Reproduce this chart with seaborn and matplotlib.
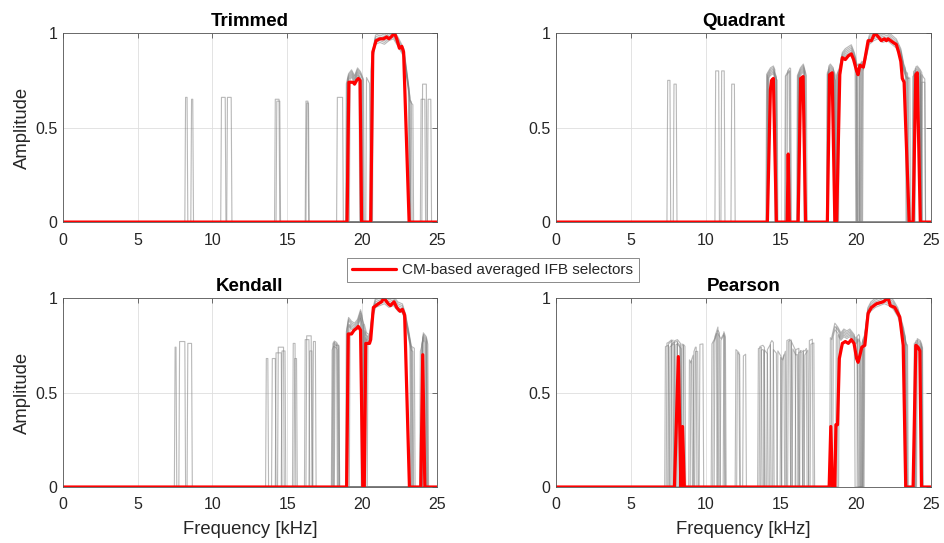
import numpy as np
import pandas as pd
import matplotlib
matplotlib.use("Agg")
import matplotlib.pyplot as plt
import seaborn as sns
from matplotlib.lines import Line2D

# ---------------- data ----------------
panel_titles = ["Trimmed", "Quadrant", "Kendall", "Pearson"]
x_ticks = [0, 5, 10, 15, 20, 25]
y_ticks = [0, 0.5, 1]
y_tick_labels = ["0", "0.5", "1"]
legend_label = "CM-based averaged IFB selectors"

# averaged selector (red)
red_f_trim = [0, 19.0, 19.12, 19.4, 19.5, 19.64, 19.75, 19.87, 19.97, 20.58, 20.72, 20.94, 21.2, 21.43,
              21.65, 21.8, 21.95, 22.17, 22.32, 22.5, 22.66, 22.78, 23.15, 25]
red_a_trim = [0, 0, 0.74, 0.74, 0.73, 0.75, 0.76, 0.75, 0, 0, 0.9, 0.96, 0.97, 0.97,
              0.98, 0.97, 0.98, 1.0, 0.97, 0.92, 0.93, 0.9, 0, 0]

red_f_quad = [0, 14.1, 14.3, 14.38, 14.5, 14.7, 15.42, 15.49, 15.56, 16.15, 16.32, 16.48, 16.65,
              18.1, 18.25, 18.42, 18.6, 18.72, 18.93, 19.1, 19.3, 19.5, 19.7, 19.85, 20.05, 20.15,
              20.27, 20.5, 20.6, 20.82, 21.04, 21.27, 21.4, 21.7, 21.9, 22.04, 22.15, 22.5, 22.7,
              22.85, 23.0, 23.1, 23.22, 23.56, 23.82, 24.0, 24.1, 24.3, 25]
red_a_quad = [0, 0, 0.7, 0.75, 0.76, 0, 0, 0.36, 0, 0, 0.76, 0.77, 0,
              0, 0.78, 0.79, 0, 0, 0.78, 0.87, 0.86, 0.88, 0.89, 0.86, 0.80, 0.78,
              0.83, 0.82, 0.86, 0.96, 0.96, 1.0, 0.99, 0.96, 0.97, 0.96, 0.97, 0.95, 0.94,
              0.9, 0.85, 0.76, 0.74, 0, 0, 0.78, 0.79, 0, 0]

red_f_kend = [0, 18.97, 19.08, 19.3, 19.47, 19.64, 19.75, 19.9, 20.05, 20.15, 20.25, 20.5, 20.58,
              20.76, 21.1, 21.3, 21.47, 21.75, 21.9, 22.14, 22.32, 22.54, 22.7, 22.85, 23.17,
              23.93, 24.06, 24.2, 25]
red_a_kend = [0, 0, 0.81, 0.81, 0.83, 0.84, 0.85, 0.83, 0, 0, 0.76, 0.76, 0.78,
              0.95, 0.97, 0.98, 1.0, 0.97, 0.96, 0.98, 0.95, 0.93, 0.94, 0.91, 0,
              0, 0.70, 0, 0]

red_f_pear = [0, 7.9, 8.16, 8.33, 8.44, 8.56, 18.22, 18.33, 18.44, 18.6, 18.67, 18.78, 18.9,
              19.1, 19.3, 19.5, 19.7, 19.88, 20.05, 20.15, 20.25, 20.4, 20.6, 20.82, 21.04, 21.38,
              21.82, 22.16, 22.3, 22.6, 22.93, 23.16, 23.33, 23.82, 24.0, 24.15, 24.27, 24.38, 25]
red_a_pear = [0, 0, 0.69, 0, 0.32, 0, 0, 0.32, 0, 0, 0.33, 0.33, 0.68,
              0.76, 0.77, 0.76, 0.78, 0.76, 0.68, 0.66, 0.69, 0.74, 0.75, 0.92, 0.95, 0.97,
              0.98, 1.0, 0.96, 0.95, 0.9, 0.75, 0, 0, 0.75, 0.74, 0.72, 0, 0]

# individual selectors (grey): amplitude envelope, selected bands per run, isolated pulses
env_f_trim = [18.9, 19.1, 19.3, 19.5, 19.7, 19.9, 20.1, 20.3, 20.5, 20.7, 20.9, 21.2, 21.5, 21.8,
              22.1, 22.4, 22.6, 22.8, 23.0, 23.2, 23.4]
env_a_trim = [0.70, 0.77, 0.79, 0.76, 0.80, 0.78, 0.74, 0.75, 0.72, 0.88, 0.97, 0.98, 0.97, 0.99,
              1.0, 0.96, 0.93, 0.9, 0.78, 0.66, 0.64]
bands_trim = [
    [(19.0, 20.0), (20.6, 23.2)],
    [(19.1, 19.9), (20.7, 23.3)],
    [(18.95, 20.1), (20.3, 20.5), (20.62, 23.15)],
    [(19.2, 19.95), (20.65, 23.4)],
    [(19.05, 20.05), (20.7, 23.2)],
    [(19.0, 19.8), (20.75, 23.1)],
]
pulses_trim = [(8.2, 8.3, 0.66), (8.6, 8.68, 0.65), (10.6, 10.85, 0.66), (11.0, 11.25, 0.66),
               (14.2, 14.45, 0.65), (14.3, 14.5, 0.64), (16.25, 16.38, 0.64), (16.3, 16.42, 0.63),
               (18.35, 18.7, 0.66), (23.95, 24.2, 0.65), (24.05, 24.3, 0.73), (24.42, 24.6, 0.65)]

env_f_quad = [14.0, 14.3, 14.5, 14.7, 15.2, 15.4, 15.6, 16.1, 16.3, 16.5, 16.7, 18.1, 18.3, 18.5,
              18.7, 18.9, 19.1, 19.3, 19.5, 19.7, 19.9, 20.1, 20.3, 20.5, 20.7, 20.9, 21.2, 21.5,
              21.8, 22.1, 22.4, 22.7, 23.0, 23.2, 23.4, 23.7, 23.9, 24.1, 24.3, 24.5, 24.7]
env_a_quad = [0.76, 0.80, 0.81, 0.77, 0.75, 0.78, 0.80, 0.76, 0.80, 0.82, 0.76, 0.80, 0.82, 0.80,
              0.76, 0.80, 0.88, 0.90, 0.91, 0.92, 0.88, 0.82, 0.84, 0.83, 0.9, 0.97, 0.99, 1.0,
              0.98, 0.99, 0.97, 0.95, 0.9, 0.82, 0.78, 0.79, 0.80, 0.81, 0.79, 0.76, 0.74]
bands_quad = [
    [(14.1, 14.7), (15.35, 15.6), (16.15, 16.6), (18.15, 18.6), (18.75, 20.05), (20.3, 23.4), (23.85, 24.35)],
    [(14.15, 14.75), (16.2, 16.55), (18.1, 18.55), (18.8, 20.1), (20.25, 23.5), (23.9, 24.3)],
    [(14.05, 14.6), (15.45, 15.65), (16.1, 16.7), (18.2, 18.5), (18.7, 20.0), (20.4, 23.3), (24.0, 24.4)],
    [(14.2, 14.65), (16.25, 16.5), (18.15, 18.65), (18.9, 19.95), (20.45, 23.6), (23.8, 24.25)],
    [(14.1, 14.55), (15.3, 15.55), (16.15, 16.6), (18.2, 18.6), (18.8, 20.2), (20.35, 23.45), (23.95, 24.3), (24.42, 24.6)],
    [(14.15, 14.7), (16.2, 16.6), (18.1, 18.55), (18.85, 20.05), (20.5, 23.35), (23.9, 24.3)],
]
pulses_quad = [(7.45, 7.6, 0.75), (7.87, 8.02, 0.73), (10.65, 10.85, 0.8), (11.05, 11.22, 0.8),
               (11.72, 11.9, 0.73), (24.4, 24.6, 0.74)]

env_f_kend = [17.9, 18.1, 18.3, 18.5, 18.9, 19.1, 19.3, 19.5, 19.7, 19.9, 20.1, 20.3, 20.5, 20.7,
              20.9, 21.2, 21.5, 21.8, 22.1, 22.4, 22.7, 22.9, 23.1, 23.3, 23.5, 23.9, 24.1, 24.3, 24.5]
env_a_kend = [0.72, 0.76, 0.75, 0.72, 0.78, 0.88, 0.86, 0.85, 0.87, 0.92, 0.86, 0.80, 0.79, 0.92,
              0.98, 0.99, 1.0, 0.98, 0.99, 0.96, 0.95, 0.9, 0.82, 0.73, 0.72, 0.74, 0.80, 0.78, 0.70]
bands_kend = [
    [(18.1, 18.4), (19.0, 20.1), (20.2, 23.3), (24.05, 24.3)],
    [(18.0, 18.35), (19.05, 19.95), (20.3, 23.2), (24.0, 24.25)],
    [(18.15, 18.45), (18.95, 20.0), (20.15, 23.5), (24.1, 24.4)],
    [(19.1, 20.05), (20.25, 23.25), (23.9, 24.2)],
    [(18.05, 18.3), (19.0, 20.1), (20.4, 23.35), (24.05, 24.35)],
    [(19.2, 19.9), (20.2, 23.4), (24.0, 24.3)],
]
pulses_kend = [(7.5, 7.56, 0.74), (7.8, 8.15, 0.77), (8.35, 8.6, 0.76), (13.6, 13.7, 0.68),
               (14.0, 14.2, 0.68), (14.25, 14.6, 0.71), (14.4, 14.75, 0.74), (14.65, 14.85, 0.72),
               (15.4, 15.52, 0.76), (15.5, 15.62, 0.68), (16.2, 16.45, 0.78), (16.3, 16.6, 0.8),
               (16.5, 16.65, 0.72), (16.75, 16.88, 0.77), (18.2, 18.45, 0.75)]

env_f_pear = [7.2, 7.5, 7.8, 8.1, 8.4, 8.7, 9.0, 9.3, 9.6, 10.4, 10.6, 10.8, 11.0, 11.2, 11.5, 12.0,
              12.5, 13.5, 13.8, 14.1, 14.4, 14.8, 15.1, 15.4, 15.7, 16.0, 16.3, 16.6, 16.9, 17.2,
              18.2, 18.4, 18.6, 18.8, 19.0, 19.2, 19.4, 19.6, 19.8, 20.0, 20.2, 20.4, 20.6, 20.8,
              21.0, 21.3, 21.6, 21.9, 22.2, 22.5, 22.8, 23.1, 23.4, 23.9, 24.1, 24.3, 24.5]
env_a_pear = [0.74, 0.75, 0.77, 0.78, 0.75, 0.72, 0.67, 0.74, 0.74, 0.75, 0.78, 0.83, 0.8, 0.83,
              0.75, 0.72, 0.68, 0.74, 0.75, 0.72, 0.76, 0.72, 0.68, 0.76, 0.77, 0.72, 0.73, 0.72,
              0.76, 0.77, 0.8, 0.78, 0.85, 0.83, 0.8, 0.82, 0.81, 0.82, 0.8, 0.78, 0.8, 0.76, 0.8,
              0.93, 0.96, 0.98, 0.99, 1.0, 0.99, 0.97, 0.93, 0.85, 0.76, 0.76, 0.77, 0.76, 0.72]
bands_pear = [
    [(7.3, 7.5), (7.9, 8.3), (9.2, 9.35), (10.5, 10.9), (12.1, 12.25), (13.6, 13.9), (14.8, 15.0),
     (15.7, 15.95), (16.5, 16.7), (18.3, 20.1), (20.4, 23.3), (23.9, 24.4)],
    [(7.6, 7.9), (8.1, 8.25), (8.9, 9.05), (10.8, 11.2), (13.9, 14.1), (15.1, 15.3), (16.2, 16.4),
     (18.5, 20.3), (20.5, 23.4), (24.0, 24.3)],
    [(7.4, 7.7), (8.5, 8.6), (9.6, 9.8), (10.6, 10.8), (12.5, 12.65), (14.3, 14.5), (15.4, 15.6),
     (16.9, 17.1), (18.4, 19.9), (20.6, 23.2), (24.1, 24.4)],
    [(8.0, 8.35), (9.3, 9.45), (11.0, 11.25), (13.7, 13.85), (14.5, 14.7), (15.8, 16.1),
     (16.6, 16.8), (18.8, 20.2), (20.55, 23.35), (23.95, 24.35)],
    [(7.5, 7.8), (8.4, 8.5), (10.4, 10.7), (12.0, 12.2), (14.1, 14.3), (15.5, 15.7), (16.0, 16.2),
     (18.7, 20.25), (20.45, 23.3), (24.0, 24.45)],
    [(7.7, 8.1), (9.0, 9.15), (11.2, 11.3), (13.5, 13.7), (15.0, 15.2), (16.3, 16.5), (17.0, 17.2),
     (18.9, 20.1), (20.5, 23.45), (24.05, 24.4)],
]
pulses_pear = []

run_gain = [1.0, 0.98, 1.02, 0.97, 1.01, 0.99]

red_curves = [(red_f_trim, red_a_trim), (red_f_quad, red_a_quad),
              (red_f_kend, red_a_kend), (red_f_pear, red_a_pear)]
grey_sets = [(env_f_trim, env_a_trim, bands_trim, pulses_trim),
             (env_f_quad, env_a_quad, bands_quad, pulses_quad),
             (env_f_kend, env_a_kend, bands_kend, pulses_kend),
             (env_f_pear, env_a_pear, bands_pear, pulses_pear)]


# ---------------- helpers ----------------
def band_trace(bands, env_f, env_a, gain, ramp=0.05):
    ef = np.asarray(env_f, float)
    ea = np.asarray(env_a, float) * gain
    xs, ys = [0.0], [0.0]
    for f0, f1 in bands:
        xs += [f0 - ramp, f0]
        ys += [0.0, float(np.interp(f0, ef, ea))]
        inside = (ef > f0) & (ef < f1)
        xs += list(ef[inside])
        ys += list(ea[inside])
        xs += [f1, f1 + ramp]
        ys += [float(np.interp(f1, ef, ea)), 0.0]
    xs.append(25.0)
    ys.append(0.0)
    return xs, ys


def pulse_trace(f0, f1, h, ramp=0.05):
    return [0.0, f0 - ramp, f0, f1, f1 + ramp, 25.0], [0.0, 0.0, h, h, 0.0, 0.0]


# ---------------- style ----------------
sns.set_style("white")
plt.rcParams["font.family"] = ["Liberation Sans", "DejaVu Sans"]
plt.rcParams["axes.edgecolor"] = "#555555"
plt.rcParams["axes.linewidth"] = 0.6

fig = plt.figure(figsize=(9.44, 5.43), dpi=100)
positions = [
    [0.0667, 0.591, 0.396, 0.348],
    [0.589, 0.591, 0.397, 0.348],
    [0.0667, 0.1031, 0.396, 0.348],
    [0.589, 0.1031, 0.397, 0.348],
]

grey_color = "#7f7f7f"
text_color = "#262626"

for i, pos in enumerate(positions):
    ax = fig.add_axes(pos)
    env_f, env_a, bands, pulses = grey_sets[i]
    rows = []
    tid = 0
    for k, b in enumerate(bands):
        xs, ys = band_trace(b, env_f, env_a, run_gain[k % len(run_gain)])
        rows += [(tid, x, y) for x, y in zip(xs, ys)]
        tid += 1
    for (f0, f1, h) in pulses:
        xs, ys = pulse_trace(f0, f1, h)
        rows += [(tid, x, y) for x, y in zip(xs, ys)]
        tid += 1
    df = pd.DataFrame(rows, columns=["trace", "f", "a"])
    sns.lineplot(data=df, x="f", y="a", units="trace", estimator=None, sort=False,
                 color=grey_color, lw=0.8, alpha=0.55, ax=ax, legend=False)
    rf, ra = red_curves[i]
    sns.lineplot(x=rf, y=ra, estimator=None, sort=False, color="#ff0000", lw=2.3,
                 ax=ax, legend=False)

    ax.set_xlim(0, 25)
    ax.set_ylim(0, 1)
    ax.set_xticks(x_ticks)
    ax.set_xticklabels([str(t) for t in x_ticks])
    ax.set_yticks(y_ticks)
    ax.set_yticklabels(y_tick_labels)
    ax.grid(True, color="#dedede", lw=0.6)
    ax.set_axisbelow(True)
    ax.tick_params(direction="in", length=3.5, width=0.6, colors="#555555",
                   labelcolor=text_color, labelsize=11.5, top=True, right=True)
    ax.tick_params(axis="x", pad=7.5)
    ax.tick_params(axis="y", pad=4)
    for s in ax.spines.values():
        s.set_visible(True)
        s.set_color("#555555")
        s.set_linewidth(0.6)
    ax.set_title(panel_titles[i], fontsize=13.5, fontweight="bold", color="black", pad=5)
    if i in (0, 2):
        ax.set_ylabel("Amplitude", fontsize=13.3, color=text_color, labelpad=3)
    else:
        ax.set_ylabel("")
    if i in (2, 3):
        ax.set_xlabel("Frequency [kHz]", fontsize=13.3, color=text_color, labelpad=6)
    else:
        ax.set_xlabel("")

handle = Line2D([], [], color="#ff0000", lw=2.3)
leg = fig.legend([handle], [legend_label], loc="center", bbox_to_anchor=(0.522, 0.503),
                 frameon=True, fancybox=False, edgecolor="#555555", fontsize=11,
                 handlelength=2.9, borderpad=0.35, handletextpad=0.4, borderaxespad=0)
leg.get_frame().set_linewidth(0.6)
for t in leg.get_texts():
    t.set_color(text_color)

fig.savefig("out.png", dpi=100)
